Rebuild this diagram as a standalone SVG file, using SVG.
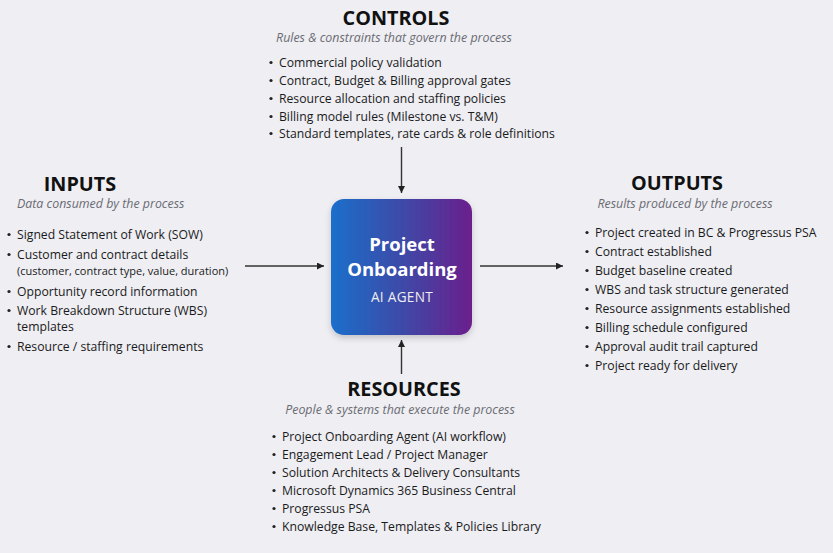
<svg xmlns="http://www.w3.org/2000/svg" width="833" height="553" viewBox="0 0 833 553">
<style>
.h{font-family:"Open Sans","Noto Sans",sans-serif;font-weight:700;font-size:19.8px;fill:#111;text-anchor:middle}
.s{font-family:"Open Sans","Noto Sans",sans-serif;font-style:italic;font-size:12.4px;fill:#6b6b72}
.t{font-family:"Open Sans","Noto Sans",sans-serif;font-size:12.2px;fill:#1a1a1a}
.sm{font-size:11px}
.b{fill:#222}
.c{stroke:#333;stroke-width:1.4;fill:none;marker-end:url(#ah)}
.bx1{font-family:"Open Sans","Noto Sans",sans-serif;font-weight:700;font-size:18.5px;fill:#fff;text-anchor:middle}
.bx2{font-family:"Open Sans","Noto Sans",sans-serif;font-size:13.6px;fill:#eee;text-anchor:middle;letter-spacing:0.3px}
</style>
<defs>
<linearGradient id="g" x1="0" y1="0" x2="1" y2="0">
<stop offset="0" stop-color="#1b6fcb"/>
<stop offset="0.5" stop-color="#3d4aa8"/>
<stop offset="1" stop-color="#6b1f8c"/>
</linearGradient>
<filter id="sh" x="-20%" y="-20%" width="140%" height="150%">
<feDropShadow dx="0" dy="3" stdDeviation="3" flood-color="#000" flood-opacity="0.18"/>
</filter>
<marker id="ah" viewBox="0 0 10 10" refX="10" refY="5" markerWidth="7" markerHeight="7" orient="auto" markerUnits="userSpaceOnUse">
<path d="M0,0 L10,5 L0,10 z" fill="#222"/>
</marker>
</defs>
<rect width="833" height="553" fill="#eeeef3"/>

<g id="connectors">
<line class="c" x1="401.5" y1="147" x2="401.5" y2="193"/>
<line class="c" x1="401.5" y1="374" x2="401.5" y2="340"/>
<line class="c" x1="245" y1="266" x2="324" y2="266"/>
<line class="c" x1="480" y1="266" x2="563" y2="266"/>
</g>

<g id="agent">
<rect x="331" y="199" width="141" height="136" rx="13" fill="url(#g)" filter="url(#sh)"/>
<text class="bx1" x="402" y="251">Project</text>
<text class="bx1" x="402" y="276">Onboarding</text>
<text class="bx2" x="402" y="302">AI AGENT</text>
</g>

<g id="controls">
<text class="h" x="396" y="25">CONTROLS</text>
<text class="s" x="394" y="42" text-anchor="middle">Rules &amp; constraints that govern the process</text>
<g class="t">
<circle class="b" cx="271" cy="62.5" r="1.6"/><text x="279" y="67">Commercial policy validation</text>
<circle class="b" cx="271" cy="80.5" r="1.6"/><text x="279" y="85">Contract, Budget &amp; Billing approval gates</text>
<circle class="b" cx="271" cy="98.5" r="1.6"/><text x="279" y="103">Resource allocation and staffing policies</text>
<circle class="b" cx="271" cy="116.5" r="1.6"/><text x="279" y="121">Billing model rules (Milestone vs. T&amp;M)</text>
<circle class="b" cx="271" cy="133.5" r="1.6"/><text x="279" y="138">Standard templates, rate cards &amp; role definitions</text>
</g>
</g>

<g id="inputs">
<text class="h" x="80" y="191">INPUTS</text>
<text class="s" x="17" y="208">Data consumed by the process</text>
<g class="t">
<circle class="b" cx="9" cy="234.5" r="1.6"/><text x="17" y="239">Signed Statement of Work (SOW)</text>
<circle class="b" cx="9" cy="254.5" r="1.6"/><text x="17" y="259">Customer and contract details</text>
<text class="sm" x="17" y="274.5">(customer, contract type, value, duration)</text>
<circle class="b" cx="9" cy="291.5" r="1.6"/><text x="17" y="296">Opportunity record information</text>
<circle class="b" cx="9" cy="310.5" r="1.6"/><text x="17" y="315">Work Breakdown Structure (WBS)</text>
<text x="17" y="331">templates</text>
<circle class="b" cx="9" cy="346.5" r="1.6"/><text x="17" y="351">Resource / staffing requirements</text>
</g>
</g>

<g id="outputs">
<text class="h" x="677" y="190">OUTPUTS</text>
<text class="s" x="685" y="208" text-anchor="middle">Results produced by the process</text>
<g class="t">
<circle class="b" cx="587" cy="232.5" r="1.6"/><text x="595" y="237">Project created in BC &amp; Progressus PSA</text>
<circle class="b" cx="587" cy="251.5" r="1.6"/><text x="595" y="256">Contract established</text>
<circle class="b" cx="587" cy="270.5" r="1.6"/><text x="595" y="275">Budget baseline created</text>
<circle class="b" cx="587" cy="289.5" r="1.6"/><text x="595" y="294">WBS and task structure generated</text>
<circle class="b" cx="587" cy="308.5" r="1.6"/><text x="595" y="313">Resource assignments established</text>
<circle class="b" cx="587" cy="327.5" r="1.6"/><text x="595" y="332">Billing schedule configured</text>
<circle class="b" cx="587" cy="346.5" r="1.6"/><text x="595" y="351">Approval audit trail captured</text>
<circle class="b" cx="587" cy="365.5" r="1.6"/><text x="595" y="370">Project ready for delivery</text>
</g>
</g>

<g id="resources">
<text class="h" x="404" y="396">RESOURCES</text>
<text class="s" x="400" y="414" text-anchor="middle">People &amp; systems that execute the process</text>
<g class="t">
<circle class="b" cx="274" cy="436.5" r="1.6"/><text x="282" y="441">Project Onboarding Agent (AI workflow)</text>
<circle class="b" cx="274" cy="454.5" r="1.6"/><text x="282" y="459">Engagement Lead / Project Manager</text>
<circle class="b" cx="274" cy="472.5" r="1.6"/><text x="282" y="477">Solution Architects &amp; Delivery Consultants</text>
<circle class="b" cx="274" cy="490.5" r="1.6"/><text x="282" y="495">Microsoft Dynamics 365 Business Central</text>
<circle class="b" cx="274" cy="508.5" r="1.6"/><text x="282" y="513">Progressus PSA</text>
<circle class="b" cx="274" cy="526.5" r="1.6"/><text x="282" y="531">Knowledge Base, Templates &amp; Policies Library</text>
</g>
</g>
</svg>
